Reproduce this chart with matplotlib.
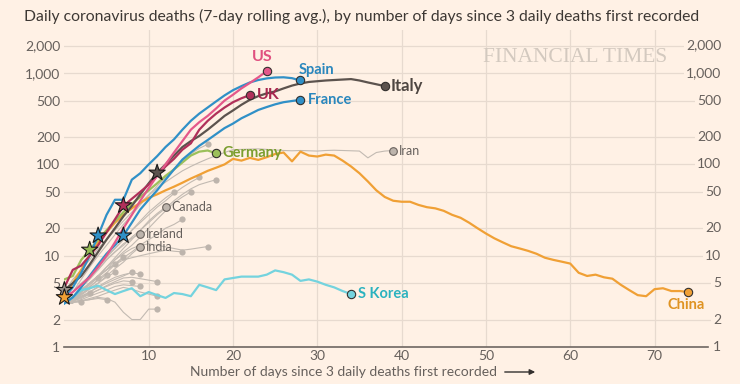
import numpy as np
import matplotlib
matplotlib.use('Agg')
import matplotlib.pyplot as plt

plt.rcParams['font.family'] = ['Lato', 'DejaVu Sans']

# daily deaths, 7-day rolling average, one value per day since 3 deaths
us = [3.5, 4, 4.8, 5.8, 7.5, 10, 14, 20, 28, 40, 55, 75, 100, 135, 180, 240,
      290, 340, 410, 500, 580, 680, 780, 900, 1050]
uk = [4.5, 7, 7.8, 10, 13, 18, 25, 35, 42, 50, 60, 75, 95, 115, 145, 170,
      240, 300, 360, 420, 480, 530, 575]
spain = [3.5, 4.5, 6.5, 10, 16.6, 28, 41, 41, 68, 80, 100, 123, 155, 188, 240,
         300, 360, 420, 490, 570, 650, 720, 790, 840, 875, 895, 900, 880, 830]
france = [3, 3.5, 4.5, 6, 8, 10.5, 13, 16.6, 23, 32, 41, 52, 68, 88, 113, 135,
          160, 185, 215, 250, 280, 320, 355, 395, 425, 455, 480, 495, 510]
italy = [4.2, 5, 6, 8, 11, 15, 20, 27, 35, 47, 62, 81, 100, 125, 155, 180, 205,
         240, 285, 340, 390, 450, 510, 560, 600, 630, 680, 730, 770, 800, 815,
         830, 840, 850, 860, 830, 790, 755, 720]
germany = [5.5, 6, 9, 11.6, 15, 19, 24, 30, 37, 44, 52, 62, 75, 88, 105, 125,
           138, 142, 132]
china = [3.5, 5, 7, 10, 14, 18, 23, 28, 33, 38, 43, 47, 52, 57, 63, 70, 77, 85,
         92, 100, 115, 110, 118, 112, 120, 130, 135, 108, 138, 125, 122, 128,
         125, 110, 95, 80, 65, 52, 44, 40, 39, 39, 36, 34, 33, 31, 28, 26, 23,
         20, 17.5, 15.5, 14, 12.7, 12, 11.3, 10.5, 9.5, 9, 8.6, 8.2, 6.5, 6.0,
         6.2, 5.8, 5.6, 4.8, 4.2, 3.7, 3.6, 4.3, 4.4, 4.1, 4.1, 4.0]
s_korea = [3.0, 3.5, 4.2, 4.4, 4.7, 4.2, 3.8, 4.1, 4.4, 3.6, 4.0, 3.7, 3.45,
           3.9, 3.8, 3.6, 4.8, 4.5, 4.2, 5.5, 5.7, 5.9, 5.9, 5.9, 6.2, 6.9,
           6.6, 6.2, 5.3, 5.5, 5.2, 4.8, 4.5, 4.1, 3.8]

# grey countries
iran = [4, 5.5, 7, 9, 12, 15, 19, 24, 30, 38, 46, 55, 64, 74, 85, 95, 105, 115,
        125, 135, 145, 146, 147, 148, 146, 144, 142, 141, 142, 141, 140, 142,
        143, 142, 141, 140, 118, 135, 140, 142]
canada = [3, 3.5, 4, 5, 6, 7.5, 9.5, 12, 15, 19, 24, 29, 34]
ireland = [3, 3.5, 4.5, 5.5, 7, 9, 11, 13.5, 15.5, 17.5]
india = [3, 3.3, 3.7, 4.3, 5, 6, 7.2, 8.5, 10.5, 12.6]
other_01 = [3, 4, 5.5, 7.5, 10, 13, 17, 22, 28, 36, 46, 58, 72, 90, 110, 130,
            150, 166]
other_02 = [3, 3.5, 4.5, 6, 8, 10, 12, 15, 19, 23, 28, 34, 40, 48, 56, 64, 72]
other_03 = [3, 4, 5, 6, 7, 9, 11, 13, 16, 19, 23, 28, 33, 40, 47, 54, 60, 64, 68]
other_04 = [3, 3.5, 4.5, 6, 7.5, 9.5, 12, 15, 19, 24, 30, 36, 43, 50]
other_05 = [3, 3, 4, 5, 6, 7, 9, 11, 13, 16, 20, 25, 31, 38, 44, 50]
other_06 = [3, 3.3, 3.8, 4.5, 5.5, 6.5, 8, 9.5, 11, 13, 15, 17, 20, 22, 25]
other_07 = [3, 3.3, 4, 4.8, 5.8, 7, 8, 9, 9.5, 10, 10.5, 11, 11.5, 11.2, 11]
other_08 = [3, 3.5, 4.2, 5, 6, 7.5, 9, 10.5, 12, 13, 13.5, 13, 12.5, 12, 11.5,
            11.8, 12.2, 12.6]
other_09 = [3, 3.2, 3.5, 4, 4.5, 5, 5.5, 6, 6.6]
other_10 = [3, 3.2, 3.6, 4, 4.6, 5.2, 5.8, 6.2, 6.5, 6.3]
other_11 = [3, 3.2, 3.4, 3.8, 4.2, 4.7, 5.2, 5.7, 5.8, 5.6, 5.4, 5.2]
other_12 = [3, 3.1, 3.3, 3.6, 3.9, 4.2, 4.6, 4.8, 4.7, 4.6]
other_13 = [3, 3.1, 3.2, 3.4, 3.6, 3.9, 4.2, 4.5, 4.3, 4.0, 3.8, 3.6]
other_14 = [3, 3.1, 3.2, 3.3, 3.5, 3.4, 3.1, 2.4, 2.0, 2.0, 2.6, 2.6]
other_15 = [3, 3.5, 4.2, 5, 6, 7, 8.1]
other_16 = [3, 3.5, 4.2, 5, 6, 7, 8.2, 9.7]
other_17 = [3, 3.5, 4.2, 5, 5.7]
other_18 = [3, 3.4, 4, 4.6, 5.4, 6.2]
other_19 = [3, 3.3, 3.8, 4.4, 5.0, 5.8, 6.6]
other_20 = [3, 3.2, 3.5, 3.8, 4.2, 4.6, 5.0, 5.3, 5.2]
other_21 = [3, 3.1, 3.2, 3.3, 3.4, 3.3]
other_22 = [3, 3.1, 3.1]
other_23 = [3, 3.3, 3.6, 3.9]

# lockdown stars: (day, value)
star_days = [0, 0, 11, 3, 4, 7, 7]
star_vals = [4.2, 3.5, 81, 11.6, 16.6, 16.6, 35.5]
star_cols = ['#9a918a', '#f0a035', '#5c534e', '#96bb55', '#3090c7', '#3090c7', '#b0305a']

y_ticks = [1, 2, 5, 10, 20, 50, 100, 200, 500, 1000, 2000]
y_labels = ['1', '2', '5', '10', '20', '50', '100', '200', '500', '1,000', '2,000']
x_ticks = [10, 20, 30, 40, 50, 60, 70]

bg = '#fff1e5'
grid = '#e7dacf'
txt = '#66605c'
grey_line = '#c2bab2'

fig = plt.figure(figsize=(7.4, 3.84), dpi=100, facecolor=bg)
ax = fig.add_axes([63.7/740, 37/384, (722-63.7)/740, (347-30)/384])
ax.set_facecolor(bg)
ax.set_yscale('log')
ax.set_xlim(-0.08, 78.0)
ax.set_ylim(1, 2966)
for s in ax.spines.values():
    s.set_visible(False)

for v in y_ticks[1:]:
    ax.axhline(v, color=grid, lw=0.9, zorder=0)
for v in x_ticks:
    ax.axvline(v, color=grid, lw=0.9, zorder=0)
ax.plot([-0.08, 76.3], [1, 1], color='#6e6661', lw=1.2, zorder=1, clip_on=False)

ax.set_yticks(y_ticks)
ax.set_yticklabels(y_labels)
ax.yaxis.set_minor_locator(matplotlib.ticker.NullLocator())
ax.set_xticks(x_ticks)
ax.set_xticklabels([str(v) for v in x_ticks])
ax.tick_params(axis='both', length=0, labelsize=10, labelcolor=txt)
ax.tick_params(axis='y', pad=2.5)
ax.tick_params(axis='x', pad=2)
for v, lab in zip(y_ticks, y_labels):
    ax.text(77.9, v, lab, ha='right', va='center', fontsize=10, color=txt,
            bbox=dict(fc=bg, ec='none', pad=1.2), zorder=3)

greys = [other_01, other_02, other_03, other_04, other_05, other_06, other_07,
         other_08, other_09, other_10, other_11, other_12, other_13, other_14,
         other_15, other_16, other_17, other_18, other_19, other_20, other_21,
         other_22, other_23]
for g in greys:
    d = np.arange(len(g))
    ax.plot(d, g, color=grey_line, lw=0.8, zorder=2)
    ax.plot(d[-1], g[-1], 'o', ms=4.5, color='#bdb4ac', mec='none', zorder=2)

for g, name in [(iran, 'Iran'), (canada, 'Canada'), (ireland, 'Ireland'), (india, 'India')]:
    d = np.arange(len(g))
    ax.plot(d, g, color=grey_line, lw=0.8, zorder=2)
    ax.plot(d[-1], g[-1], 'o', ms=5.5, color='#bdb4ac', mec='#6a625d', mew=0.8, zorder=4)
    ax.annotate(name, (d[-1], g[-1]), xytext=(6, 0), textcoords='offset pixels',
                ha='left', va='center', fontsize=9, color=txt, zorder=4)

mains = [
    (s_korea, '#74d3de', 'S Korea', '#2bb2bf', (7, 0), 'left', 10.5),
    (china, '#f0a035', 'China', '#df9322', (-2, -13), 'center', 10.5),
    (germany, '#9cc05a', 'Germany', '#7a9e2e', (6, 0), 'left', 10.5),
    (italy, '#5c534e', 'Italy', '#4e4641', (6, 0), 'left', 12),
    (france, '#3090c7', 'France', '#2a87bd', (7, 0), 'left', 10.5),
    (spain, '#3090c7', 'Spain', '#2a87bd', (-2, 10), 'left', 10.5),
    (uk, '#b0305a', 'UK', '#a8274f', (7, 0), 'left', 11.5),
    (us, '#e4588a', 'US', '#e0507f', (-4, 14), 'center', 11.5),
]
for vals, col, name, lcol, off, ha, fs in mains:
    d = np.arange(len(vals))
    ax.plot(d, vals, color=col, lw=1.6, zorder=5, solid_joinstyle='round')
    ax.plot(d[-1], vals[-1], 'o', ms=6, color=col, mec='#33302e', mew=0.8, zorder=6)
    ax.annotate(name, (d[-1], vals[-1]), xytext=off, textcoords='offset pixels',
                ha=ha, va='center', fontsize=fs, fontweight='bold', color=lcol, zorder=6)

ax.scatter(star_days, star_vals, marker='*', s=150, c=star_cols, edgecolors='#1a1817',
           linewidths=0.8, zorder=7, clip_on=False)

fig.text(24/740, 1 - 16/384, 'Daily coronavirus deaths (7-day rolling avg.), by number '
         'of days since 3 daily deaths first recorded', ha='left', va='center',
         fontsize=11.3, color='#3d3834')
fig.text(575/740, 1 - 57/384, 'FINANCIAL TIMES', ha='center', va='center',
         fontsize=15.5, color='#d3c9bf', family='Liberation Serif')
fig.text(343/740, 1 - 372/384, 'Number of days since 3 daily deaths first recorded',
         ha='center', va='center', fontsize=10, color=txt)
fig.add_artist(matplotlib.patches.FancyArrowPatch(
    (502/740, 1 - 372/384), (538/740, 1 - 372/384), transform=fig.transFigure,
    arrowstyle='-|>', mutation_scale=8, color='#33302e', lw=1))

fig.savefig('out.png', dpi=100, facecolor=bg)
